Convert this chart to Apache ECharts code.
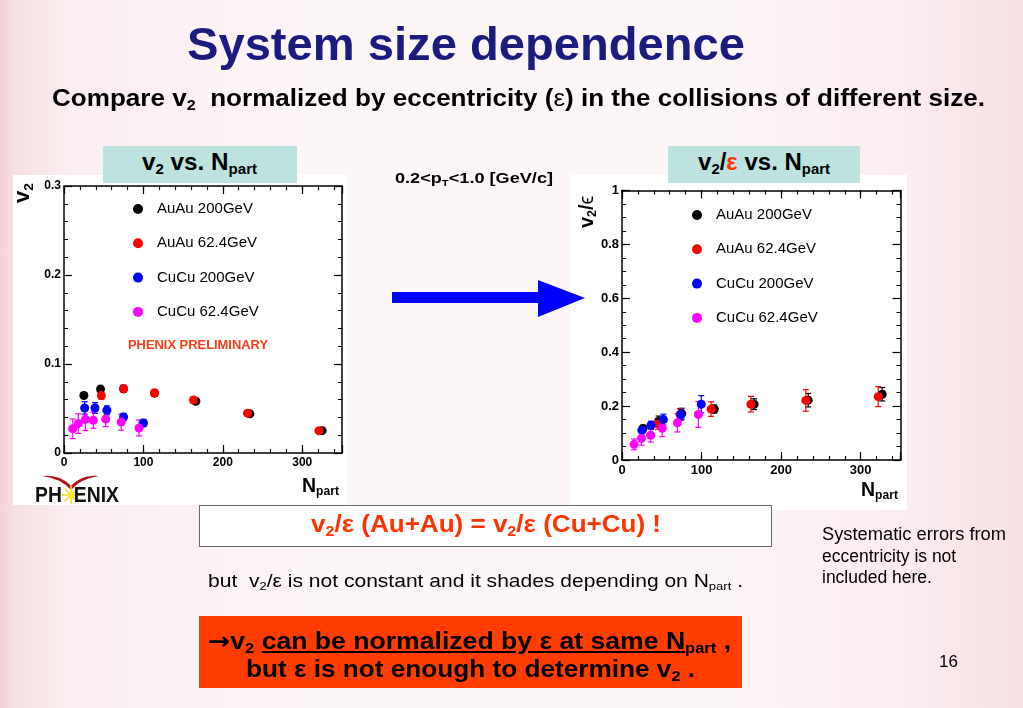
<!DOCTYPE html>
<html><head><meta charset="utf-8">
<script src="https://cdn.jsdelivr.net/npm/echarts@6/dist/echarts.min.js"></script>
<style>
html,body{margin:0;padding:0;width:1023px;height:708px;overflow:hidden;}
body{position:relative;font-family:"Liberation Sans",Arial,Helvetica,sans-serif;color:#000;
background:linear-gradient(90deg,#f3d2d8 0px,#f6dfe3 14px,#fbeef0 70px,#fdf6f7 320px,#fdf6f7 720px,#fbecef 910px,#f7e0e4 1023px);}
.t{position:absolute;white-space:nowrap;line-height:1;transform-origin:0 0;}
.b{font-weight:bold;}
.sb{font-size:0.62em;position:relative;top:0.28em;}
.box{position:absolute;box-sizing:border-box;}
#chart{position:absolute;left:0;top:0;width:1023px;height:708px;}
.arr{font-family:"DejaVu Sans";font-weight:bold;}
</style></head>
<body>
<div class="box" style="left:13px;top:175px;width:334px;height:330px;background:#fff"></div>
<div class="box" style="left:570px;top:175px;width:337px;height:335px;background:#fff"></div>
<div id="chart"></div>

<div class="t b" style="left:187px;top:20px;font-size:47px;color:#1b1b80" data-w="558">System size dependence</div>
<div class="t b" style="left:52px;top:86px;font-size:24px" data-w="933">Compare v<span class="sb">2</span>&nbsp; normalized by eccentricity (<span style="font-weight:normal">ε</span>) in the collisions of different size.</div>

<div class="box" style="left:103px;top:146px;width:194px;height:37px;background:#bde3e1"></div>
<div class="box" style="left:668px;top:146px;width:192px;height:37px;background:#bde3e1"></div>
<div class="t b" style="left:142px;top:150px;font-size:24px" data-w="115">v<span class="sb">2</span> vs. N<span class="sb">part</span></div>
<div class="t b" style="left:698px;top:150px;font-size:24px" data-w="132">v<span class="sb">2</span>/<span style="color:#ff3300">ε</span> vs. N<span class="sb">part</span></div>
<div class="t b" style="left:395px;top:170px;font-size:15px" data-w="158">0.2&lt;p<span class="sb">T</span>&lt;1.0 [GeV/c]</div>

<svg style="position:absolute;left:0;top:0" width="1023" height="708">
  <polygon points="392,292 538,292 538,280 585,298 538,317 538,303 392,303" fill="#0000ff"/>
  <path d="M42,476 Q60,474 71,486 Q82,474 99,476 Q82,478 71,490 Q60,478 42,476 Z" fill="#b3131b"/>
  <g stroke="#f2e020" stroke-width="1.6">
    <line x1="62" y1="495" x2="80" y2="495"/><line x1="71" y1="486" x2="71" y2="504"/>
    <line x1="64.5" y1="488.5" x2="77.5" y2="501.5"/><line x1="64.5" y1="501.5" x2="77.5" y2="488.5"/>
  </g>
  <circle cx="71" cy="495" r="3.5" fill="#f7ea30"/>
</svg>
<div class="t b" style="left:35px;top:484px;font-size:22px;color:#111" data-w="84">PH<span style="display:inline-block;width:0.62em"></span>ENIX</div>

<div class="t b" style="left:128px;top:339px;font-size:12px;color:#ff3a1a" data-w="140">PHENIX PRELIMINARY</div>

<div class="t b" style="left:11px;top:203px;font-size:22px;transform:rotate(-90deg)">v<span class="sb">2</span></div>
<div class="t b" style="left:576px;top:228px;font-size:20px;transform:rotate(-90deg)">v<span class="sb">2</span>/<span style="font-weight:normal">ϵ</span></div>
<div class="t b" style="left:302px;top:476px;font-size:19.5px">N<span class="sb">part</span></div>
<div class="t b" style="left:861px;top:480px;font-size:19.5px">N<span class="sb">part</span></div>

<div class="box" style="left:199px;top:505px;width:573px;height:42px;border:1.5px solid #6a6a6a;background:#fff"></div>
<div class="t b" style="left:311px;top:513px;font-size:23px;color:#ff3300" data-w="350">v<span class="sb">2</span>/ε (Au+Au) = v<span class="sb">2</span>/ε (Cu+Cu) !</div>
<div class="t" style="left:208px;top:571px;font-size:19px" data-w="535">but&nbsp; v<span class="sb">2</span>/ε is not constant and it shades depending on N<span class="sb">part</span> .</div>

<div class="box" style="left:199px;top:616px;width:543px;height:72px;background:#ff3d00"></div>
<div class="t b" style="left:208px;top:630px;font-size:23.5px" data-w="523"><span class="arr">→</span>v<span class="sb">2</span> <u>can be normalized by ε at same N<span class="sb">part</span></u> ,</div>
<div class="t b" style="left:246px;top:658px;font-size:23.5px" data-w="449">but ε is not enough to determine v<span class="sb">2</span> .</div>

<div class="t" style="left:822px;top:526px;font-size:17.5px" data-w="184">Systematic errors from</div>
<div class="t" style="left:822px;top:548px;font-size:17.5px">eccentricity is not</div>
<div class="t" style="left:822px;top:569px;font-size:17.5px">included here.</div>
<div class="t" style="left:939px;top:653px;font-size:17px">16</div>

<script>
// ---------------- data ----------------
const seriesNames = ['AuAu 200GeV', 'AuAu 62.4GeV', 'CuCu 200GeV', 'CuCu 62.4GeV'];
const seriesColors = ['#000000', '#ff0000', '#0000ff', '#ff00ff'];

// left panel: v2 vs Npart
const leftAuAu200N   = [25, 46, 75, 114, 166, 234, 325];
const leftAuAu200V2  = [0.0646, 0.0718, 0.0720, 0.0672, 0.0582, 0.0440, 0.0251];
const leftAuAu200Err = [0.002, 0.003, 0.003, 0.003, 0.002, 0.002, 0.0015];
const leftAuAu62N    = [47, 75, 114, 163, 231, 321];
const leftAuAu62V2   = [0.0645, 0.0723, 0.0675, 0.0595, 0.0448, 0.0250];
const leftAuAu62Err  = [0.004, 0.004, 0.004, 0.003, 0.002, 0.0015];
const leftCuCu200N   = [26, 39, 54, 75, 100];
const leftCuCu200V2  = [0.0506, 0.0506, 0.0480, 0.0404, 0.0337];
const leftCuCu200Err = [0.007, 0.006, 0.005, 0.004, 0.004];
const leftCuCu62N    = [11, 18, 27, 37, 52.5, 72, 94.5];
const leftCuCu62V2   = [0.0272, 0.0330, 0.0378, 0.0367, 0.0382, 0.0347, 0.0281];
const leftCuCu62Err  = [0.011, 0.011, 0.0125, 0.009, 0.0085, 0.009, 0.009];

// right panel: v2/eps vs Npart
const rightAuAu200N   = [26.5, 46, 75, 116, 166, 234, 327];
const rightAuAu200V   = [0.117, 0.143, 0.172, 0.189, 0.207, 0.222, 0.244];
const rightAuAu200Err = [0.012, 0.020, 0.020, 0.015, 0.020, 0.025, 0.025];
const rightAuAu62N    = [45, 73, 112, 162, 231, 322];
const rightAuAu62V    = [0.134, 0.169, 0.189, 0.207, 0.221, 0.235];
const rightAuAu62Err  = [0.020, 0.022, 0.027, 0.029, 0.040, 0.037];
const rightCuCu200N   = [25, 36.5, 52, 74, 99.6];
const rightCuCu200V   = [0.110, 0.129, 0.150, 0.168, 0.207];
const rightCuCu200Err = [0.012, 0.015, 0.020, 0.020, 0.032];
const rightCuCu62N    = [15.2, 24.5, 36, 50.6, 69.6, 96];
const rightCuCu62V    = [0.058, 0.080, 0.092, 0.118, 0.138, 0.169];
const rightCuCu62Err  = [0.020, 0.025, 0.025, 0.031, 0.034, 0.048];

// axis ranges / ticks
const xRange = [0, 350], xMajor = 100, xMinor = 20;
const yLeftRange = [0, 0.3], yLeftMajor = 0.1;
const yRightRange = [0, 1], yRightMajor = 0.2;

// ---------------- chart ----------------
const FONT = 'Liberation Sans';
const chart = echarts.init(document.getElementById('chart'), null, {renderer: 'canvas'});

const gridL = {left: 64, top: 186, width: 278, height: 267};
const gridR = {left: 622, top: 190.5, width: 278.5, height: 269.5};

function xAx(grid, pos, major, labels, fs) {
  return {
    type: 'value', gridIndex: grid, position: pos, min: xRange[0], max: xRange[1],
    interval: major ? xMajor : xMinor,
    axisLine: {show: major, onZero: false, lineStyle: {color: '#000', width: 1.5}},
    axisTick: {show: true, inside: true, length: major ? 8 : 4, lineStyle: {color: '#000', width: 1.2}},
    splitLine: {show: false},
    axisLabel: {show: labels, color: '#000', fontWeight: 'bold', fontSize: fs || 12, fontFamily: FONT, margin: 4,
      formatter: v => (v % 100 === 0 ? String(v) : '')},
    axisPointer: {show: false}
  };
}
function yAx(grid, pos, range, major, minorSplit, labels, fs) {
  return {
    type: 'value', gridIndex: grid, position: pos, min: range[0], max: range[1], interval: major,
    axisLine: {show: true, onZero: false, lineStyle: {color: '#000', width: 1.5}},
    axisTick: {show: true, inside: true, length: 8, lineStyle: {color: '#000', width: 1.2}},
    minorTick: {show: true, splitNumber: minorSplit, length: 4, lineStyle: {color: '#000', width: 1}},
    splitLine: {show: false}, minorSplitLine: {show: false},
    axisLabel: {show: labels, color: '#000', fontWeight: 'bold', fontSize: fs || 12, fontFamily: FONT, margin: 3},
    axisPointer: {show: false}
  };
}
function hiddenY(grid) {
  return {type: 'value', gridIndex: grid, show: false, min: 0, max: 1};
}

function scatter(name, xs, ys, color, xi, yi) {
  return {
    type: 'scatter', name, xAxisIndex: xi, yAxisIndex: yi, symbol: 'circle', symbolSize: 9,
    itemStyle: {color, opacity: 1}, data: xs.map((x, i) => [x, ys[i]]), z: 3, silent: true
  };
}
function errorBars(name, xs, ys, es, color, xi, yi) {
  return {
    type: 'custom', name: name + ' err', xAxisIndex: xi, yAxisIndex: yi, z: 2, silent: true,
    encode: {x: 0, y: 1},
    data: xs.map((x, i) => [x, ys[i], es[i]]),
    renderItem: function (params, api) {
      const x = api.value(0), y = api.value(1), e = api.value(2);
      const lo = api.coord([x, y - e]), hi = api.coord([x, y + e]);
      const st = {stroke: color, lineWidth: 1.2};
      return {type: 'group', children: [
        {type: 'line', shape: {x1: lo[0], y1: lo[1], x2: hi[0], y2: hi[1]}, style: st},
        {type: 'line', shape: {x1: lo[0] - 3, y1: lo[1], x2: lo[0] + 3, y2: lo[1]}, style: st},
        {type: 'line', shape: {x1: hi[0] - 3, y1: hi[1], x2: hi[0] + 3, y2: hi[1]}, style: st}
      ]};
    }
  };
}

const leftSets = [
  [leftAuAu200N, leftAuAu200V2, leftAuAu200Err],
  [leftAuAu62N, leftAuAu62V2, leftAuAu62Err],
  [leftCuCu200N, leftCuCu200V2, leftCuCu200Err],
  [leftCuCu62N, leftCuCu62V2, leftCuCu62Err]
];
const rightSets = [
  [rightAuAu200N, rightAuAu200V, rightAuAu200Err],
  [rightAuAu62N, rightAuAu62V, rightAuAu62Err],
  [rightCuCu200N, rightCuCu200V, rightCuCu200Err],
  [rightCuCu62N, rightCuCu62V, rightCuCu62Err]
];

const series = [];
leftSets.forEach((s, i) => {
  series.push(errorBars(seriesNames[i] + ' L', s[0], s[1], s[2], seriesColors[i], 0, 0));
  series.push(scatter(seriesNames[i], s[0], s[1], seriesColors[i], 0, 0));
});
rightSets.forEach((s, i) => {
  series.push(errorBars(seriesNames[i] + ' R', s[0], s[1], s[2], seriesColors[i], 4, 3));
  series.push(scatter(seriesNames[i], s[0], s[1], seriesColors[i], 4, 3));
});

function legend(left, top) {
  return {
    data: seriesNames, orient: 'vertical', left, top, padding: 0, itemGap: 18.3,
    itemWidth: 10, itemHeight: 10, icon: 'circle', selectedMode: false,
    itemStyle: {opacity: 1},
    textStyle: {fontSize: 15, lineHeight: 16, color: '#000', fontFamily: FONT, padding: [0, 0, 0, 9]}
  };
}

chart.setOption({
  animation: false,
  backgroundColor: 'transparent',
  grid: [Object.assign({}, gridL), Object.assign({}, gridL), Object.assign({}, gridR), Object.assign({}, gridR)],
  xAxis: [
    xAx(0, 'bottom', true, true, 12), xAx(0, 'top', true, false),
    xAx(1, 'bottom', false, false), xAx(1, 'top', false, false),
    xAx(2, 'bottom', true, true, 13), xAx(2, 'top', true, false),
    xAx(3, 'bottom', false, false), xAx(3, 'top', false, false)
  ],
  yAxis: [
    yAx(0, 'left', yLeftRange, yLeftMajor, 5, true, 12), yAx(0, 'right', yLeftRange, yLeftMajor, 5, false),
    hiddenY(1),
    yAx(2, 'left', yRightRange, yRightMajor, 4, true, 13), yAx(2, 'right', yRightRange, yRightMajor, 4, false),
    hiddenY(3)
  ],
  legend: [legend(133, 201), legend(692, 207)],
  series
});

// fit slide texts to their measured widths
function fit() {
  document.querySelectorAll('[data-w]').forEach(el => {
    el.style.transform = '';
    const r = el.getBoundingClientRect().width;
    const w = +el.dataset.w;
    if (r > 0) el.style.transform = 'scaleX(' + (w / r).toFixed(4) + ')';
  });
}
fit();
if (document.fonts && document.fonts.ready) document.fonts.ready.then(fit);
</script>
</body></html>
